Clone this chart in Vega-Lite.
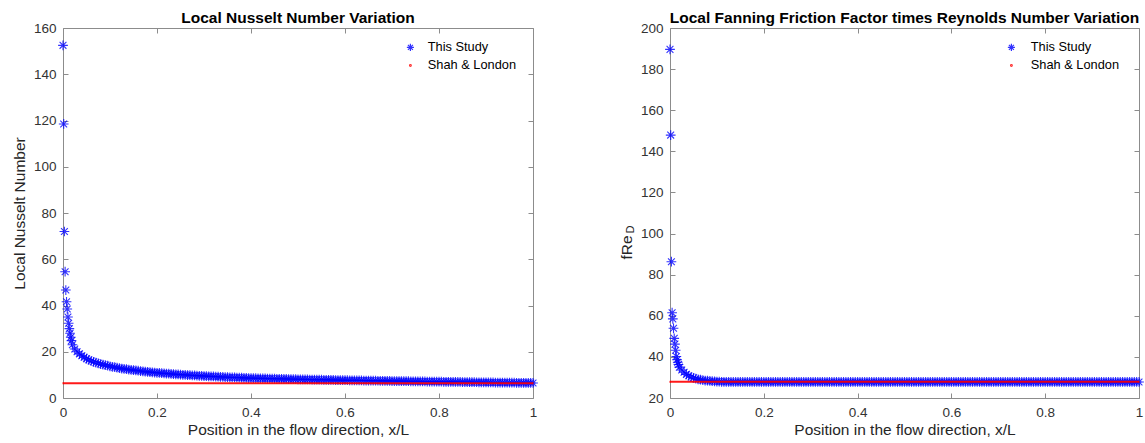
{
  "$schema": "https://vega.github.io/schema/vega-lite/v6.json",
  "padding": {"left": 12, "top": 10, "right": 5, "bottom": 0},
  "spacing": 78,
  "config": {
    "view": {"stroke": null},
    "font": "Liberation Sans",
    "axis": {"grid": false, "domainColor": "#8c8c8c", "tickColor": "#8c8c8c", "labelColor": "#333333", "titleColor": "#262626", "labelFont": "Liberation Sans", "titleFont": "Liberation Sans", "labelFontSize": 13.5, "titleFontSize": 15.5, "titleFontWeight": "normal", "tickSize": -5, "labelPadding": 12, "labelFlush": false, "domainWidth": 1},
    "title": {"font": "Liberation Sans", "fontSize": 15.5, "fontWeight": "bold", "color": "#000000", "anchor": "middle", "offset": -5},
    "legend": {"orient": "none", "legendX": 341, "legendY": 13, "padding": 0, "title": null, "labelFont": "Liberation Sans", "labelFontSize": 12.8, "labelColor": "#000000", "symbolSize": 50, "symbolStrokeWidth": 1.2, "rowPadding": 4, "labelOffset": 11}
  },
  "datasets": {
    "nu": [{"x":0,"y":152.5},{"x":0.0015,"y":118.5},{"x":0.003,"y":72},{"x":0.0045,"y":54.6},{"x":0.006,"y":46.7},{"x":0.0075,"y":41.6},{"x":0.009,"y":38.5},{"x":0.0105,"y":35},{"x":0.012,"y":32.3},{"x":0.0135,"y":30},{"x":0.015,"y":28},{"x":0.0165,"y":26.3},{"x":0.018,"y":24.8},
      {"x":0.02,"y":23},{"x":0.025,"y":21.2},{"x":0.03,"y":20},{"x":0.035,"y":19.1},{"x":0.04,"y":18.3},{"x":0.045,"y":17.6},{"x":0.05,"y":17},{"x":0.055,"y":16.5},{"x":0.06,"y":16},{"x":0.065,"y":15.65},{"x":0.07,"y":15.3},{"x":0.075,"y":15},{"x":0.08,"y":14.7},{"x":0.085,"y":14.45},{"x":0.09,"y":14.2},{"x":0.095,"y":13.95},{"x":0.1,"y":13.7},
      {"x":0.105,"y":13.5},{"x":0.11,"y":13.3},{"x":0.115,"y":13.1},{"x":0.12,"y":12.9},{"x":0.125,"y":12.75},{"x":0.13,"y":12.6},{"x":0.135,"y":12.45},{"x":0.14,"y":12.3},{"x":0.145,"y":12.17},{"x":0.15,"y":12.05},{"x":0.155,"y":11.92},{"x":0.16,"y":11.8},{"x":0.165,"y":11.67},{"x":0.17,"y":11.55},{"x":0.175,"y":11.42},{"x":0.18,"y":11.3},{"x":0.185,"y":11.2},{"x":0.19,"y":11.1},{"x":0.195,"y":11},{"x":0.2,"y":10.9},
      {"x":0.205,"y":10.82},{"x":0.21,"y":10.74},{"x":0.215,"y":10.66},{"x":0.22,"y":10.58},{"x":0.225,"y":10.5},{"x":0.23,"y":10.42},{"x":0.235,"y":10.34},{"x":0.24,"y":10.26},{"x":0.245,"y":10.18},{"x":0.25,"y":10.1},{"x":0.255,"y":10.04},{"x":0.26,"y":9.98},{"x":0.265,"y":9.92},{"x":0.27,"y":9.86},{"x":0.275,"y":9.8},{"x":0.28,"y":9.74},{"x":0.285,"y":9.68},{"x":0.29,"y":9.62},{"x":0.295,"y":9.56},{"x":0.3,"y":9.5},
      {"x":0.305,"y":9.45},{"x":0.31,"y":9.4},{"x":0.315,"y":9.35},{"x":0.32,"y":9.3},{"x":0.325,"y":9.25},{"x":0.33,"y":9.2},{"x":0.335,"y":9.15},{"x":0.34,"y":9.1},{"x":0.345,"y":9.05},{"x":0.35,"y":9},{"x":0.355,"y":8.96},{"x":0.36,"y":8.92},{"x":0.365,"y":8.88},{"x":0.37,"y":8.84},{"x":0.375,"y":8.8},{"x":0.38,"y":8.76},{"x":0.385,"y":8.72},{"x":0.39,"y":8.68},{"x":0.395,"y":8.64},{"x":0.4,"y":8.6},
      {"x":0.405,"y":8.57},{"x":0.41,"y":8.55},{"x":0.415,"y":8.52},{"x":0.42,"y":8.5},{"x":0.425,"y":8.47},{"x":0.43,"y":8.45},{"x":0.435,"y":8.42},{"x":0.44,"y":8.4},{"x":0.445,"y":8.37},{"x":0.45,"y":8.35},{"x":0.455,"y":8.32},{"x":0.46,"y":8.3},{"x":0.465,"y":8.27},{"x":0.47,"y":8.25},{"x":0.475,"y":8.22},{"x":0.48,"y":8.2},{"x":0.485,"y":8.17},{"x":0.49,"y":8.15},{"x":0.495,"y":8.12},{"x":0.5,"y":8.1},
      {"x":0.505,"y":8.08},{"x":0.51,"y":8.06},{"x":0.515,"y":8.04},{"x":0.52,"y":8.02},{"x":0.525,"y":8},{"x":0.53,"y":7.98},{"x":0.535,"y":7.96},{"x":0.54,"y":7.94},{"x":0.545,"y":7.92},{"x":0.55,"y":7.9},{"x":0.555,"y":7.88},{"x":0.56,"y":7.86},{"x":0.565,"y":7.84},{"x":0.57,"y":7.82},{"x":0.575,"y":7.8},{"x":0.58,"y":7.78},{"x":0.585,"y":7.76},{"x":0.59,"y":7.74},{"x":0.595,"y":7.72},{"x":0.6,"y":7.7},
      {"x":0.605,"y":7.68},{"x":0.61,"y":7.66},{"x":0.615,"y":7.65},{"x":0.62,"y":7.63},{"x":0.625,"y":7.61},{"x":0.63,"y":7.6},{"x":0.635,"y":7.58},{"x":0.64,"y":7.56},{"x":0.645,"y":7.54},{"x":0.65,"y":7.53},{"x":0.655,"y":7.51},{"x":0.66,"y":7.49},{"x":0.665,"y":7.47},{"x":0.67,"y":7.46},{"x":0.675,"y":7.44},{"x":0.68,"y":7.42},{"x":0.685,"y":7.4},{"x":0.69,"y":7.39},{"x":0.695,"y":7.37},{"x":0.7,"y":7.35},
      {"x":0.705,"y":7.34},{"x":0.71,"y":7.32},{"x":0.715,"y":7.31},{"x":0.72,"y":7.29},{"x":0.725,"y":7.28},{"x":0.73,"y":7.26},{"x":0.735,"y":7.25},{"x":0.74,"y":7.23},{"x":0.745,"y":7.22},{"x":0.75,"y":7.2},{"x":0.755,"y":7.19},{"x":0.76,"y":7.17},{"x":0.765,"y":7.16},{"x":0.77,"y":7.14},{"x":0.775,"y":7.13},{"x":0.78,"y":7.11},{"x":0.785,"y":7.1},{"x":0.79,"y":7.08},{"x":0.795,"y":7.07},{"x":0.8,"y":7.05},
      {"x":0.805,"y":7.04},{"x":0.81,"y":7.02},{"x":0.815,"y":7.01},{"x":0.82,"y":6.99},{"x":0.825,"y":6.98},{"x":0.83,"y":6.96},{"x":0.835,"y":6.95},{"x":0.84,"y":6.93},{"x":0.845,"y":6.92},{"x":0.85,"y":6.9},{"x":0.855,"y":6.89},{"x":0.86,"y":6.87},{"x":0.865,"y":6.86},{"x":0.87,"y":6.84},{"x":0.875,"y":6.83},{"x":0.88,"y":6.81},{"x":0.885,"y":6.8},{"x":0.89,"y":6.78},{"x":0.895,"y":6.77},{"x":0.9,"y":6.75},
      {"x":0.905,"y":6.74},{"x":0.91,"y":6.72},{"x":0.915,"y":6.71},{"x":0.92,"y":6.7},{"x":0.925,"y":6.69},{"x":0.93,"y":6.67},{"x":0.935,"y":6.66},{"x":0.94,"y":6.65},{"x":0.945,"y":6.64},{"x":0.95,"y":6.62},{"x":0.955,"y":6.61},{"x":0.96,"y":6.6},{"x":0.965,"y":6.59},{"x":0.97,"y":6.57},{"x":0.975,"y":6.56},{"x":0.98,"y":6.55},{"x":0.985,"y":6.54},{"x":0.99,"y":6.52},{"x":0.995,"y":6.51},{"x":1,"y":6.5}],
    "nuRef": [{"x":0,"y":6.35},{"x":1,"y":6.35}],
    "fre": [{"x":0,"y":189.6},{"x":0.0015,"y":147.9},{"x":0.003,"y":86.3},{"x":0.0045,"y":61.5},{"x":0.006,"y":58.5},{"x":0.0075,"y":53.9},{"x":0.009,"y":49},{"x":0.0105,"y":46.2},{"x":0.012,"y":43.2},{"x":0.0135,"y":40.2},{"x":0.015,"y":38.6},{"x":0.0165,"y":37.4},{"x":0.018,"y":36.3},
      {"x":0.02,"y":35},{"x":0.025,"y":33.6},{"x":0.03,"y":32.5},{"x":0.035,"y":31.5},{"x":0.04,"y":30.8},{"x":0.045,"y":30.2},{"x":0.05,"y":29.8},{"x":0.055,"y":29.4},{"x":0.06,"y":29.1},{"x":0.065,"y":28.9},{"x":0.07,"y":28.7},{"x":0.075,"y":28.5},{"x":0.08,"y":28.4},{"x":0.085,"y":28.3},{"x":0.09,"y":28.2},{"x":0.095,"y":28.1},{"x":0.1,"y":28},
      {"x":0.105,"y":27.95},{"x":0.11,"y":27.9},{"x":0.115,"y":27.87},{"x":0.12,"y":27.85},{"x":0.125,"y":27.8},{"x":0.13,"y":27.8},{"x":0.135,"y":27.8},{"x":0.14,"y":27.8},{"x":0.145,"y":27.8},{"x":0.15,"y":27.8},{"x":0.155,"y":27.8},{"x":0.16,"y":27.8},{"x":0.165,"y":27.8},{"x":0.17,"y":27.8},{"x":0.175,"y":27.8},{"x":0.18,"y":27.8},{"x":0.185,"y":27.8},{"x":0.19,"y":27.8},{"x":0.195,"y":27.8},{"x":0.2,"y":27.8},
      {"x":0.205,"y":27.8},{"x":0.21,"y":27.8},{"x":0.215,"y":27.8},{"x":0.22,"y":27.8},{"x":0.225,"y":27.8},{"x":0.23,"y":27.8},{"x":0.235,"y":27.8},{"x":0.24,"y":27.8},{"x":0.245,"y":27.8},{"x":0.25,"y":27.8},{"x":0.255,"y":27.8},{"x":0.26,"y":27.8},{"x":0.265,"y":27.8},{"x":0.27,"y":27.8},{"x":0.275,"y":27.8},{"x":0.28,"y":27.8},{"x":0.285,"y":27.8},{"x":0.29,"y":27.8},{"x":0.295,"y":27.8},{"x":0.3,"y":27.8},
      {"x":0.305,"y":27.8},{"x":0.31,"y":27.8},{"x":0.315,"y":27.8},{"x":0.32,"y":27.8},{"x":0.325,"y":27.8},{"x":0.33,"y":27.8},{"x":0.335,"y":27.8},{"x":0.34,"y":27.8},{"x":0.345,"y":27.8},{"x":0.35,"y":27.8},{"x":0.355,"y":27.8},{"x":0.36,"y":27.8},{"x":0.365,"y":27.8},{"x":0.37,"y":27.8},{"x":0.375,"y":27.8},{"x":0.38,"y":27.8},{"x":0.385,"y":27.8},{"x":0.39,"y":27.8},{"x":0.395,"y":27.8},{"x":0.4,"y":27.8},
      {"x":0.405,"y":27.8},{"x":0.41,"y":27.8},{"x":0.415,"y":27.8},{"x":0.42,"y":27.8},{"x":0.425,"y":27.8},{"x":0.43,"y":27.8},{"x":0.435,"y":27.8},{"x":0.44,"y":27.8},{"x":0.445,"y":27.8},{"x":0.45,"y":27.8},{"x":0.455,"y":27.8},{"x":0.46,"y":27.8},{"x":0.465,"y":27.8},{"x":0.47,"y":27.8},{"x":0.475,"y":27.8},{"x":0.48,"y":27.8},{"x":0.485,"y":27.8},{"x":0.49,"y":27.8},{"x":0.495,"y":27.8},{"x":0.5,"y":27.8},
      {"x":0.505,"y":27.8},{"x":0.51,"y":27.8},{"x":0.515,"y":27.8},{"x":0.52,"y":27.8},{"x":0.525,"y":27.8},{"x":0.53,"y":27.8},{"x":0.535,"y":27.8},{"x":0.54,"y":27.8},{"x":0.545,"y":27.8},{"x":0.55,"y":27.8},{"x":0.555,"y":27.8},{"x":0.56,"y":27.8},{"x":0.565,"y":27.8},{"x":0.57,"y":27.8},{"x":0.575,"y":27.8},{"x":0.58,"y":27.8},{"x":0.585,"y":27.8},{"x":0.59,"y":27.8},{"x":0.595,"y":27.8},{"x":0.6,"y":27.8},
      {"x":0.605,"y":27.8},{"x":0.61,"y":27.8},{"x":0.615,"y":27.8},{"x":0.62,"y":27.8},{"x":0.625,"y":27.8},{"x":0.63,"y":27.8},{"x":0.635,"y":27.8},{"x":0.64,"y":27.8},{"x":0.645,"y":27.8},{"x":0.65,"y":27.8},{"x":0.655,"y":27.8},{"x":0.66,"y":27.8},{"x":0.665,"y":27.8},{"x":0.67,"y":27.8},{"x":0.675,"y":27.8},{"x":0.68,"y":27.8},{"x":0.685,"y":27.8},{"x":0.69,"y":27.8},{"x":0.695,"y":27.8},{"x":0.7,"y":27.8},
      {"x":0.705,"y":27.8},{"x":0.71,"y":27.8},{"x":0.715,"y":27.8},{"x":0.72,"y":27.8},{"x":0.725,"y":27.8},{"x":0.73,"y":27.8},{"x":0.735,"y":27.8},{"x":0.74,"y":27.8},{"x":0.745,"y":27.8},{"x":0.75,"y":27.8},{"x":0.755,"y":27.8},{"x":0.76,"y":27.8},{"x":0.765,"y":27.8},{"x":0.77,"y":27.8},{"x":0.775,"y":27.8},{"x":0.78,"y":27.8},{"x":0.785,"y":27.8},{"x":0.79,"y":27.8},{"x":0.795,"y":27.8},{"x":0.8,"y":27.8},
      {"x":0.805,"y":27.8},{"x":0.81,"y":27.8},{"x":0.815,"y":27.8},{"x":0.82,"y":27.8},{"x":0.825,"y":27.8},{"x":0.83,"y":27.8},{"x":0.835,"y":27.8},{"x":0.84,"y":27.8},{"x":0.845,"y":27.8},{"x":0.85,"y":27.8},{"x":0.855,"y":27.8},{"x":0.86,"y":27.8},{"x":0.865,"y":27.8},{"x":0.87,"y":27.8},{"x":0.875,"y":27.8},{"x":0.88,"y":27.8},{"x":0.885,"y":27.8},{"x":0.89,"y":27.8},{"x":0.895,"y":27.8},{"x":0.9,"y":27.8},
      {"x":0.905,"y":27.8},{"x":0.91,"y":27.8},{"x":0.915,"y":27.8},{"x":0.92,"y":27.8},{"x":0.925,"y":27.8},{"x":0.93,"y":27.8},{"x":0.935,"y":27.8},{"x":0.94,"y":27.8},{"x":0.945,"y":27.8},{"x":0.95,"y":27.8},{"x":0.955,"y":27.8},{"x":0.96,"y":27.8},{"x":0.965,"y":27.8},{"x":0.97,"y":27.8},{"x":0.975,"y":27.8},{"x":0.98,"y":27.8},{"x":0.985,"y":27.8},{"x":0.99,"y":27.8},{"x":0.995,"y":27.8},{"x":1,"y":27.8}],
    "freRef": [{"x":0,"y":27.9},{"x":1,"y":27.9}],
    "sub": [{"t":"D","x":-0.083,"y":102}]
  },
  "resolve": {"scale": {"color": "independent", "shape": "independent"}, "legend": {"color": "independent", "shape": "independent"}},
  "hconcat": [
    {
      "width": 470, "height": 370,
      "title": {"text": "Local Nusselt Number Variation"},
      "layer": [
        {
          "data": {"name": "nu"},
          "mark": {"type": "point", "filled": false, "size": 95, "strokeWidth": 1.1, "opacity": 0.8},
          "encoding": {
            "x": {"field": "x", "type": "quantitative", "scale": {"domain": [0, 1], "nice": false, "zero": false}, "axis": {"values": [0, 0.2, 0.4, 0.6, 0.8, 1], "format": "~g", "title": "Position in the flow direction, x/L"}},
            "y": {"field": "y", "type": "quantitative", "scale": {"domain": [0, 160], "nice": false}, "axis": {"values": [0, 20, 40, 60, 80, 100, 120, 140, 160], "title": "Local Nusselt Number", "titlePadding": 6}},
            "color": {"datum": "This Study", "type": "nominal", "scale": {"domain": ["This Study", "Shah & London"], "range": ["#0000ff", "#ff0000"]}},
            "shape": {"datum": "This Study", "type": "nominal", "scale": {"domain": ["This Study", "Shah & London"], "range": ["M-1,0L1,0M0,-1L0,1M-0.7,-0.7L0.7,0.7M-0.7,0.7L0.7,-0.7", "M-0.25,0A0.25,0.25,0,1,0,0.25,0A0.25,0.25,0,1,0,-0.25,0Z"]}}
          }
        },
        {
          "data": {"name": "nuRef"},
          "mark": {"type": "point", "filled": false, "size": 4, "strokeWidth": 1.5},
          "encoding": {
            "x": {"field": "x", "type": "quantitative", "scale": {"domain": [0, 1], "nice": false, "zero": false}, "axis": null},
            "y": {"field": "y", "type": "quantitative", "scale": {"domain": [0, 160], "nice": false}, "axis": null},
            "color": {"datum": "Shah & London", "type": "nominal"},
            "shape": {"datum": "Shah & London", "type": "nominal"}
          }
        },
        {
          "data": {"name": "nuRef"},
          "mark": {"type": "line", "color": "#ff0000", "strokeWidth": 2, "opacity": 0.9},
          "encoding": {
            "x": {"field": "x", "type": "quantitative", "scale": {"domain": [0, 1], "nice": false, "zero": false}, "axis": {"orient": "top", "values": [0, 0.2, 0.4, 0.6, 0.8, 1], "labels": false, "title": null}},
            "y": {"field": "y", "type": "quantitative", "scale": {"domain": [0, 160], "nice": false}, "axis": {"orient": "right", "values": [0, 20, 40, 60, 80, 100, 120, 140, 160], "labels": false, "title": null}}
          }
        }
      ],
      "resolve": {"scale": {"x": "independent", "y": "independent"}}
    },
    {
      "width": 469, "height": 370,
      "title": {"text": "Local Fanning Friction Factor times Reynolds Number Variation"},
      "layer": [
        {
          "data": {"name": "fre"},
          "mark": {"type": "point", "filled": false, "size": 95, "strokeWidth": 1.1, "opacity": 0.8},
          "encoding": {
            "x": {"field": "x", "type": "quantitative", "scale": {"domain": [0, 1], "nice": false, "zero": false}, "axis": {"values": [0, 0.2, 0.4, 0.6, 0.8, 1], "format": "~g", "title": "Position in the flow direction, x/L"}},
            "y": {"field": "y", "type": "quantitative", "scale": {"domain": [20, 200], "nice": false, "zero": false}, "axis": {"values": [20, 40, 60, 80, 100, 120, 140, 160, 180, 200], "title": "fRe", "titlePadding": 6, "titleY": 219}},
            "color": {"datum": "This Study", "type": "nominal", "scale": {"domain": ["This Study", "Shah & London"], "range": ["#0000ff", "#ff0000"]}, "legend": {"legendX": 335, "labelOffset": 13}},
            "shape": {"datum": "This Study", "type": "nominal", "scale": {"domain": ["This Study", "Shah & London"], "range": ["M-1,0L1,0M0,-1L0,1M-0.7,-0.7L0.7,0.7M-0.7,0.7L0.7,-0.7", "M-0.25,0A0.25,0.25,0,1,0,0.25,0A0.25,0.25,0,1,0,-0.25,0Z"]}, "legend": {"legendX": 335, "labelOffset": 13}}
          }
        },
        {
          "data": {"name": "freRef"},
          "mark": {"type": "point", "filled": false, "size": 4, "strokeWidth": 1.5},
          "encoding": {
            "x": {"field": "x", "type": "quantitative", "scale": {"domain": [0, 1], "nice": false, "zero": false}, "axis": null},
            "y": {"field": "y", "type": "quantitative", "scale": {"domain": [20, 200], "nice": false, "zero": false}, "axis": null},
            "color": {"datum": "Shah & London", "type": "nominal"},
            "shape": {"datum": "Shah & London", "type": "nominal"}
          }
        },
        {
          "data": {"name": "freRef"},
          "mark": {"type": "line", "color": "#ff0000", "strokeWidth": 2, "opacity": 0.9},
          "encoding": {
            "x": {"field": "x", "type": "quantitative", "scale": {"domain": [0, 1], "nice": false, "zero": false}, "axis": {"orient": "top", "values": [0, 0.2, 0.4, 0.6, 0.8, 1], "labels": false, "title": null}},
            "y": {"field": "y", "type": "quantitative", "scale": {"domain": [20, 200], "nice": false, "zero": false}, "axis": {"orient": "right", "values": [20, 40, 60, 80, 100, 120, 140, 160, 180, 200], "labels": false, "title": null}}
          }
        },
        {
          "data": {"name": "sub"},
          "mark": {"type": "text", "angle": 270, "fontSize": 11, "font": "Liberation Sans", "color": "#262626", "clip": false},
          "encoding": {
            "text": {"field": "t"},
            "x": {"field": "x", "type": "quantitative", "scale": {"domain": [0, 1], "nice": false, "zero": false}, "axis": null},
            "y": {"field": "y", "type": "quantitative", "scale": {"domain": [20, 200], "nice": false, "zero": false}, "axis": null}
          }
        }
      ],
      "resolve": {"scale": {"x": "independent", "y": "independent"}}
    }
  ]
}
